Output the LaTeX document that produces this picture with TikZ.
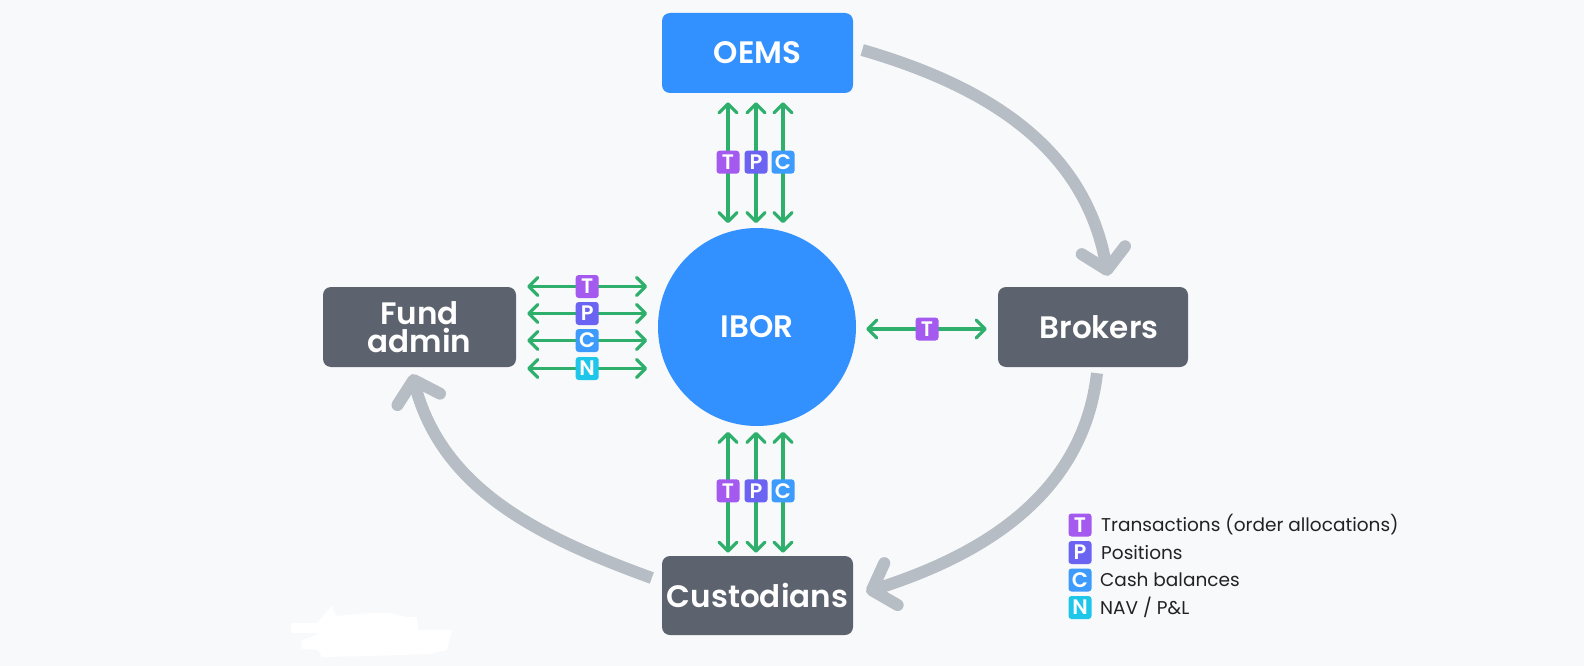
\documentclass[tikz,border=0pt]{standalone}
\usepackage{fontspec}
\setmainfont{Poppins}[BoldFont={Poppins SemiBold}]
\usetikzlibrary{arrows.meta,calc}
\definecolor{bgc}{HTML}{F8F9FB}
\definecolor{bluec}{HTML}{3390FF}
\definecolor{darkc}{HTML}{5D636E}
\definecolor{arcc}{HTML}{B7BDC5}
\definecolor{greenc}{HTML}{2EB06C}
\definecolor{cT}{HTML}{A45AEE}
\definecolor{cP}{HTML}{6B63F1}
\definecolor{cC}{HTML}{3C9BFD}
\definecolor{cN}{HTML}{1EC6E9}
\definecolor{legc}{HTML}{222222}
\tikzset{
  box/.style={rounded corners=8pt, minimum width=191pt, minimum height=80pt, inner sep=0pt,
    text=white, align=center, font=\fontsize{31}{28}\selectfont\bfseries},
  badge/.style={rounded corners=3pt, minimum size=23pt, inner sep=0pt, text=white,
    font=\fontsize{21}{21}\selectfont\bfseries},
  garrow/.style={draw=greenc, line width=3.2pt,
    {Straight Barb[length=9pt,width=18pt,round]}-{Straight Barb[length=9pt,width=18pt,round]}},
  garc/.style={draw=arcc, line width=12pt, -{Straight Barb[length=20pt,width=44pt,round]}},
  legtext/.style={anchor=west, inner sep=0pt, text=legc, font=\fontsize{18.5}{20}\selectfont},
}
\begin{document}
\begin{tikzpicture}[x=1pt,y=-1pt]
\fill[bgc] (0,0) rectangle (1584,666);
\useasboundingbox (0,0) rectangle (1584,666);
% white blob
\fill[white] (291,623) -- (317,623) -- (332,606) -- (336,616) -- (370,613) -- (390,613) -- (407,617)
  -- (417,617) -- (418,630) -- (452,630) -- (447,650) -- (430,654) -- (370,656) -- (322,657)
  -- (318,650) -- (302,649) -- (301,641) -- (320,633) -- (291,633) -- cycle;

% main nodes
\node[box, fill=bluec] (oems) at (757.5,53) {OEMS};
\node[box, fill=darkc, minimum width=193pt] (fund) at (419.5,327) {Fund\\admin};
\node[box, fill=darkc, minimum width=190pt] (brokers) at (1093,327) {\hspace*{12pt}Brokers};
\node[box, fill=darkc, minimum height=79pt] (cust) at (757.5,595.5) {Custodians};
\node[circle, fill=bluec, minimum size=198pt, inner sep=0pt, text=white,
      font=\fontsize{31}{31}\selectfont\bfseries] (ibor) at (757,327) {IBOR};

% gray cycle arcs
\draw[garc, line cap=butt] ($(oems.east)+(9,-3)$) .. controls (990,87) and (1085,149) .. ($(brokers.north)+(15,-11)$);
\draw[garc, line cap=butt] ($(brokers.south)+(4,6)$) .. controls (1083,495) and (982,555) .. ($(cust.east)+(13,-3.5)$);
\draw[garc, line cap=butt] ($(cust.west)+(-10,-17.5)$) .. controls (539,537) and (443,490) .. ($(fund.south)+(-7.5,7)$);

% OEMS <-> IBOR and IBOR <-> Custodians
\foreach \dx/\l/\c in {-29.5/T/cT, -1.5/P/cP, 25.5/C/cC} {
  \draw[garrow] ($(oems.south)+(\dx,9)$) -- ($(oems.south)+(\dx,130)$);
  \node[badge, fill=\c] at ($(oems.south)+(\dx,69)$) {\l};
  \draw[garrow] ($(cust.north)+(\dx,-3)$) -- ($(cust.north)+(\dx,-124)$);
  \node[badge, fill=\c] at ($(cust.north)+(\dx,-65)$) {\l};
}
% Fund admin <-> IBOR
\foreach \dy/\l/\c in {-40.5/T/cT, -13.5/P/cP, 13.5/C/cC, 41.5/N/cN} {
  \draw[garrow] ($(fund.east)+(11,\dy)$) -- ($(fund.east)+(131,\dy)$);
  \node[badge, fill=\c] at ($(fund.east)+(71,\dy)$) {\l};
}
% IBOR <-> Brokers
\draw[garrow] ($(ibor.east)+(10,2)$) -- ($(brokers.west)+(-11,2)$);
\node[badge, fill=cT] (bT) at (927,329) {T};

% legend
\node[badge, fill=cT] (lT) at (1080,525) {T};
\node[badge, fill=cP] (lP) at (1080,552.5) {P};
\node[badge, fill=cC] (lC) at (1080,580) {C};
\node[badge, fill=cN] (lN) at (1080,607.5) {N};
\node[legtext] at (1101,525) {Transactions (order allocations)};
\node[legtext] at (1101,552.5) {Positions};
\node[legtext] at (1100,580) {Cash balances};
\node[legtext] at (1100,607.5) {NAV / P\&L};
\end{tikzpicture}
\end{document}
